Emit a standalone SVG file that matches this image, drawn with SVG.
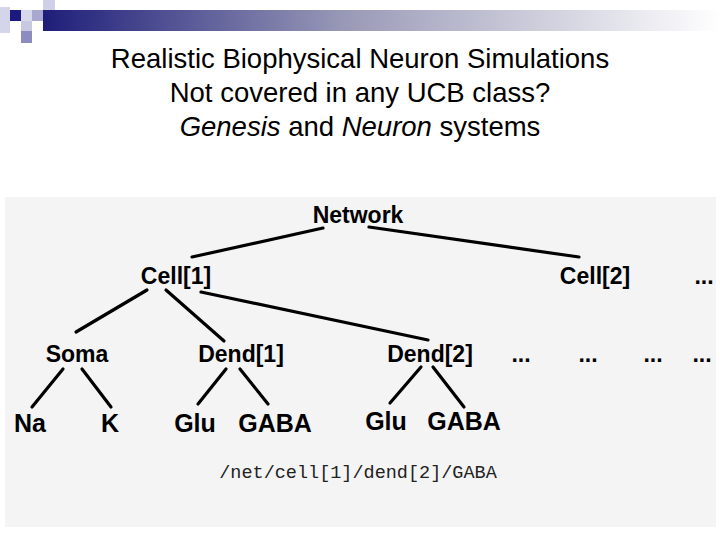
<svg xmlns="http://www.w3.org/2000/svg" width="720" height="540" viewBox="0 0 720 540">
<defs>
<linearGradient id="band" x1="0" x2="1" y1="0" y2="0">
<stop offset="0" stop-color="#1e1e7a"/>
<stop offset="0.45" stop-color="#9a9ab8"/>
<stop offset="1" stop-color="#ffffff"/>
</linearGradient>
<style>
.t{font-family:"Liberation Sans",Arial,sans-serif;font-size:27.5px;fill:#000;text-anchor:middle}
.n{font-family:"Liberation Sans",Arial,sans-serif;font-weight:bold;font-size:23px;fill:#000;text-anchor:middle}
.lf{font-size:25px}
.c line{stroke:#000;stroke-width:3.2;stroke-linecap:round}
</style>
</defs>
<rect width="720" height="540" fill="#fff"/>
<g id="decor">
<rect x="43" y="10" width="677" height="21" fill="url(#band)"/>
<rect x="0" y="7" width="10" height="26" fill="#d4d4ea"/>
<rect x="10" y="10" width="11" height="11" fill="#1a1a80"/>
<rect x="21" y="10" width="11" height="11" fill="#d8d8ec"/>
<rect x="32" y="10" width="11" height="11" fill="#a8a8d0"/>
<rect x="43" y="0" width="12" height="10" fill="#cfcfe6"/>
<rect x="21" y="21" width="11" height="10" fill="#c8c8e2"/>
<rect x="21" y="31" width="11" height="12" fill="#8c8cc0"/>
</g>
<g id="title">
<text class="t" x="360" y="68">Realistic Biophysical Neuron Simulations</text>
<text class="t" x="360" y="102">Not covered in any UCB class?</text>
<text class="t" x="360" y="136"><tspan font-style="italic">Genesis</tspan> and <tspan font-style="italic">Neuron</tspan> systems</text>
</g>
<rect id="panel" x="5" y="197" width="711" height="330" fill="#f4f4f4"/>
<g id="connectors" class="c">
<line x1="323" y1="228" x2="192" y2="257"/>
<line x1="369" y1="227" x2="579" y2="257"/>
<line x1="147" y1="290" x2="76" y2="332"/>
<line x1="166" y1="290" x2="224" y2="341"/>
<line x1="201" y1="292" x2="428" y2="340"/>
<line x1="63" y1="369" x2="32" y2="407"/>
<line x1="82" y1="369" x2="111" y2="407"/>
<line x1="226" y1="369" x2="198" y2="404"/>
<line x1="240" y1="369" x2="268" y2="404"/>
<line x1="421" y1="367" x2="390" y2="403"/>
<line x1="433" y1="367" x2="464" y2="407"/>
</g>
<g id="network"><text class="n" x="358" y="223">Network</text></g>
<g id="cell1"><text class="n" x="176" y="284">Cell[1]</text></g>
<g id="cell2"><text class="n" x="595" y="284">Cell[2]</text></g>
<g id="cellmore"><text class="n" x="704" y="284">...</text></g>
<g id="soma"><text class="n" x="77" y="362">Soma</text></g>
<g id="dend1"><text class="n" x="241" y="362">Dend[1]</text></g>
<g id="dend2"><text class="n" x="430" y="362">Dend[2]</text></g>
<g id="more1"><text class="n" x="521" y="362">...</text></g>
<g id="more2"><text class="n" x="588" y="362">...</text></g>
<g id="more3"><text class="n" x="653" y="362">...</text></g>
<g id="more4"><text class="n" x="702" y="362">...</text></g>
<g id="na"><text class="n lf" x="30" y="432">Na</text></g>
<g id="k"><text class="n lf" x="110" y="432">K</text></g>
<g id="glu1"><text class="n lf" x="195" y="432">Glu</text></g>
<g id="gaba1"><text class="n lf" x="275" y="432">GABA</text></g>
<g id="glu2"><text class="n lf" x="386" y="430">Glu</text></g>
<g id="gaba2"><text class="n lf" x="464" y="430">GABA</text></g>
<g id="path"><text x="358" y="478" text-anchor="middle" font-family="'Liberation Mono','Courier New',monospace" font-size="18.5" fill="#222">/net/cell[1]/dend[2]/GABA</text></g>
</svg>
